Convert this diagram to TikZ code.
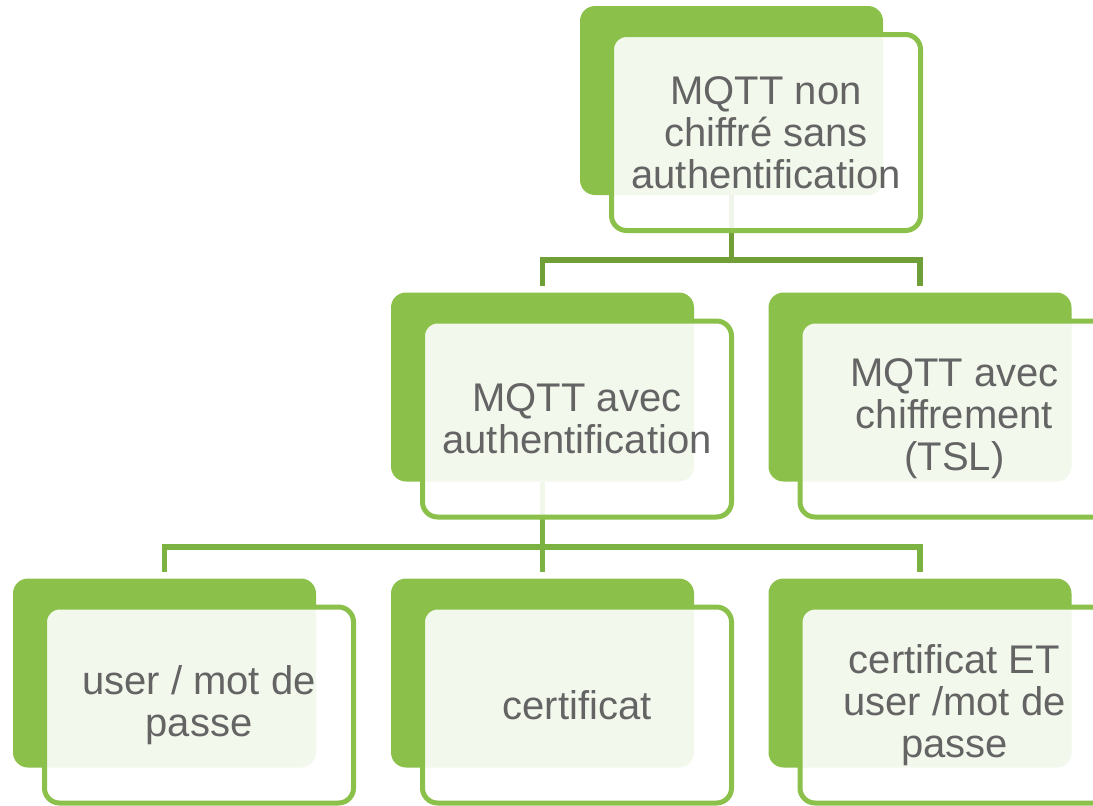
\documentclass[tikz,border=0pt]{standalone}
\usepackage{fontspec}
\setmainfont{Liberation Sans}
\usetikzlibrary{backgrounds}
\definecolor{gfill}{RGB}{139,193,74}
\definecolor{glineA}{RGB}{112,158,55}
\definecolor{glineB}{RGB}{124,178,66}
\definecolor{txtgray}{RGB}{100,100,100}
\tikzset{
 backbox/.style={fill=gfill, draw=none, rounded corners=15pt, minimum width=303pt, minimum height=189pt, inner sep=0pt},
 frontbox/.style={draw=gfill, line width=5pt, fill=white, fill opacity=0.9, text opacity=1, rounded corners=15pt, minimum width=309pt, minimum height=196pt, inner sep=0pt, align=center, text=txtgray, font=\fontsize{40}{42}\selectfont},
 connA/.style={draw=glineA, line width=5.5pt},
 connB/.style={draw=glineB, line width=5.5pt},
}
\begin{document}
\begin{tikzpicture}[x=1pt,y=-1pt]
\useasboundingbox (0,0) rectangle (1093,806);
\clip (0,0) rectangle (1093,806);
% back boxes
\node[backbox] (g0) at (731.5,100.5) {};
\node[backbox] (g1) at (542.5,387) {};
\node[backbox] (g2) at (920,387) {};
\node[backbox] (g3) at (164.5,673) {};
\node[backbox] (g4) at (542.5,673) {};
\node[backbox] (g5) at (920,673) {};
% front boxes
\node[frontbox] (f0) at (766,132.5) {MQTT non\\chiffré sans\\authentification};
\node[frontbox] (f1) at (577,419) {MQTT avec\\authentification};
\node[frontbox] (f2) at (954.5,419) {MQTT avec\\chiffrement\\(TSL)};
\node[frontbox] (f3) at (199,705) {user / mot de\\passe};
\node[frontbox] (f4) at (577,705) {certificat};
\node[frontbox] (f5) at (954.5,705) {certificat ET\\user /mot de\\passe};
% connectors
\coordinate (j1) at (731.5,260);
\coordinate (j2) at (542.5,547);
\begin{scope}[on background layer]
\draw[connA] (g0.south) -- (j1);
\draw[connA, shorten >=6pt] (j1) -| (g1.north);
\draw[connA, shorten >=6pt] (j1) -| (g2.north);
\draw[connB] (g1.south) -- (j2);
\draw[connB, shorten >=6pt] (j2) -| (g3.north);
\draw[connB, shorten >=6pt] (j2) -- (g4.north);
\draw[connB, shorten >=6pt] (j2) -| (g5.north);
\end{scope}
\end{tikzpicture}
\end{document}
